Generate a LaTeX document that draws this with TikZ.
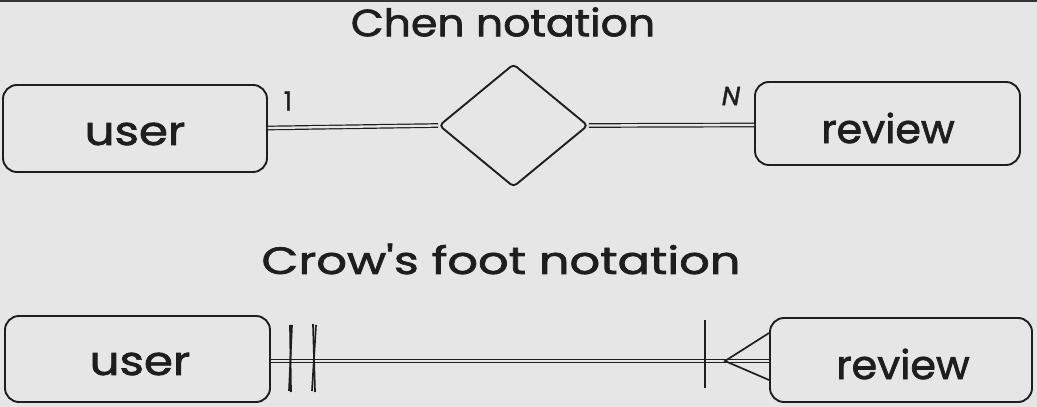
\documentclass[tikz,border=0pt]{standalone}
\usepackage{fontspec}
\setmainfont{Poppins}[FakeBold=1.6, Ligatures=TeXOff]
\usetikzlibrary{shapes.geometric}
\definecolor{bg}{HTML}{E6E6E6}
\definecolor{ink}{HTML}{1E1E1E}
\tikzset{
  entity/.style={draw=ink, line width=1.9pt, rounded corners=14pt, inner sep=0pt, text=ink},
  rel/.style={draw=ink, line width=1.9pt, diamond, rounded corners=4pt, inner sep=0pt},
  dbl/.style={draw=ink, line width=1.2pt, double=bg, double distance=2.3pt},
  tick/.style={draw=ink, line width=1.7pt},
  title/.style={text=ink, inner sep=0pt, font=\fontsize{38}{40}\selectfont},
  lbl/.style={text=ink, inner sep=0pt, font=\fontsize{26}{28}\selectfont},
  etext/.style={text=ink, inner sep=0pt, font=\fontsize{40}{42}\selectfont}
}
\begin{document}
\begin{tikzpicture}[x=1pt,y=1pt]
\fill[bg] (0,0) rectangle (1037,407);
\fill[ink!90] (0,404.5) rectangle (1037,407);
\useasboundingbox (0,0) rectangle (1037,407);
% Chen
\node[title] (t1) at (503,385) {\scalebox{1.12}[1]{Chen notation}};
\node[entity, minimum width=264pt, minimum height=87pt] (u1) at (135,278.5) {};
\node[etext] (u1t) at (135,273) {\scalebox{1.17}[1]{user}};
\node[entity, minimum width=265pt, minimum height=83pt] (r1) at (887.5,283.5) {};
\node[etext] (r1t) at (888,279) {\scalebox{1.03}[1]{review}};
\node[rel, minimum width=149pt, minimum height=123pt] (d) at (513.5,281.5) {};
\draw[dbl] (u1.east |- 0,279) -- (d.west);
\draw[dbl] (d.east) -- (r1.west |- 0,282);
\node[lbl] (one) at (288,306) {1};
\node[lbl] (enn) at (731,311) {\textit{N}};
% Crow's foot
\node[title] (t2) at (501,148) {\scalebox{1.26}[1]{Crow's foot notation}};
\node[entity, minimum width=265pt, minimum height=86pt] (u2) at (137.5,48) {};
\node[etext] (u2t) at (140,43) {\scalebox{1.17}[1]{user}};
\node[entity, minimum width=262pt, minimum height=84pt] (r2) at (901,47) {};
\node[etext] (r2t) at (903,43) {\scalebox{1.03}[1]{review}};
\draw[dbl] (u2.east |- 0,46) -- (r2.west |- 0,46);
\coordinate (b1a) at (290,82); \coordinate (b1b) at (291,15);
\coordinate (b1c) at (292,82); \coordinate (b1d) at (289,16);
\coordinate (b2a) at (313,83); \coordinate (b2b) at (315,15);
\coordinate (b2c) at (316,82); \coordinate (b2d) at (312,16);
\draw[tick] (b1a) -- (b1b); \draw[tick] (b1c) -- (b1d);
\draw[tick] (b2a) -- (b2b); \draw[tick] (b2c) -- (b2d);
\coordinate (b3a) at (705,87); \coordinate (b3b) at (705,19);
\draw[tick] (b3a) -- (b3b);
\coordinate (apex) at (725,46);
\draw[tick] (r2.west |- 0,74) -- (apex) -- (r2.west |- 0,27);
\end{tikzpicture}
\end{document}
